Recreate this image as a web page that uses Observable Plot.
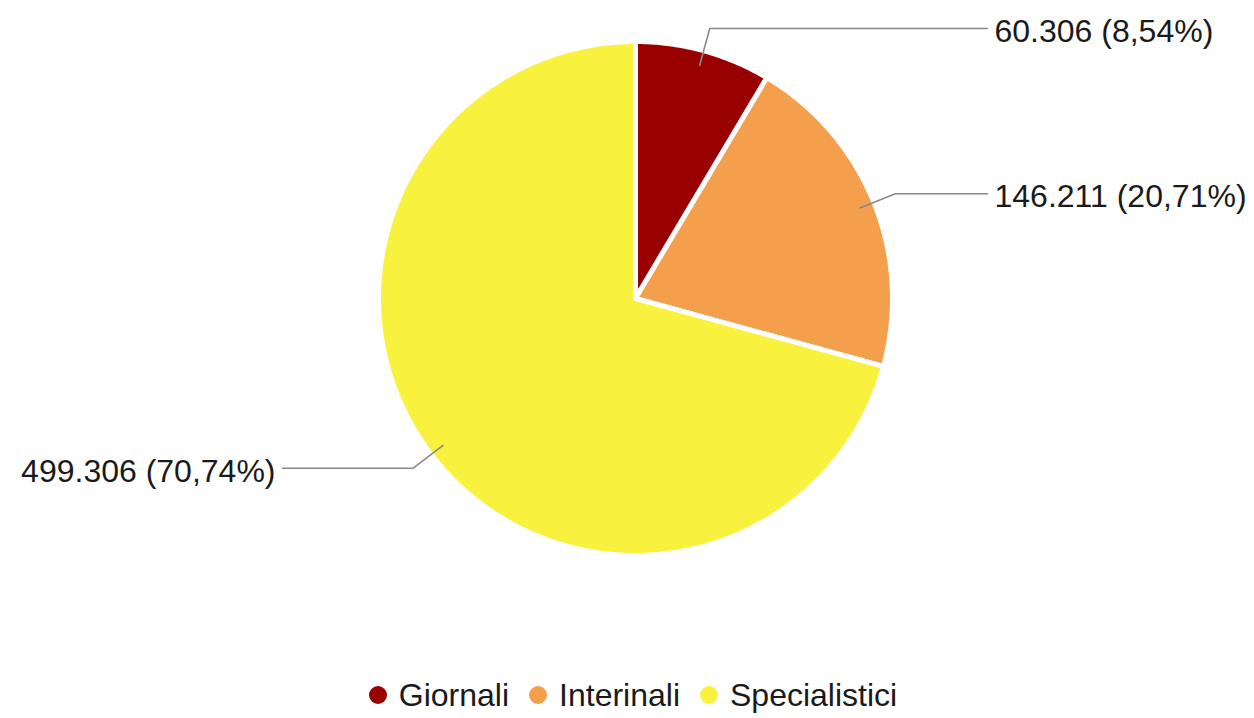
<!DOCTYPE html>
<html><head><meta charset="utf-8">
<script src="https://cdn.jsdelivr.net/npm/d3@7"></script>
<script src="https://cdn.jsdelivr.net/npm/@observablehq/plot@0.6"></script>
<style>
body{margin:0;background:#fff;font-family:"Liberation Sans",Arial,sans-serif;}
#legend{display:flex;justify-content:center;align-items:center;height:46px;font-size:32px;color:#1a1a1a;padding-left:12px;}
#legend .item{display:flex;align-items:center;margin:0 10px;}
#legend .sw{width:18px;height:18px;border-radius:50%;margin-right:12px;}
</style></head>
<body><div id="chart"></div><div id="legend"></div>
<script>
const categories = ["Giornali", "Interinali", "Specialistici"];
const values = [60306, 146211, 499306];
const colors = ["#990000", "#f39f4b", "#f8f23f"];

const W = 1254, H = 672;
const cx = 635, cy = 298, R = 257;
const total = d3.sum(values);
const itLocale = d3.formatLocale({decimal: ",", thousands: ".", grouping: [3], currency: ["€", ""]});
const fmtInt = itLocale.format(",d");
const fmtPct = itLocale.format(".2f");

const arcs = d3.pie().sort(null).value(d => d)(values);

// slice polygons
const slicePts = [];
arcs.forEach((a, i) => {
  slicePts.push({cat: categories[i], x: cx, y: cy});
  const n = Math.max(8, Math.ceil((a.endAngle - a.startAngle) * 120));
  for (let k = 0; k <= n; k++) {
    const t = a.startAngle + (a.endAngle - a.startAngle) * k / n;
    slicePts.push({cat: categories[i], x: cx + R * Math.sin(t), y: cy - R * Math.cos(t)});
  }
});

// leader lines and labels
const leaderPts = [];
const labels = [];
arcs.forEach((a, i) => {
  const m = (a.startAngle + a.endAngle) / 2;
  const s = Math.sin(m), c = Math.cos(m);
  const right = s >= 0;
  const ex = cx + 280 * s, ey = cy - 280 * c;
  const endX = right ? cx + 352 : cx - 353;
  leaderPts.push({cat: categories[i], x: cx + 242 * s, y: cy - 242 * c});
  leaderPts.push({cat: categories[i], x: ex, y: ey});
  leaderPts.push({cat: categories[i], x: endX, y: ey});
  labels.push({
    right,
    x: right ? endX + 7 : endX - 7,
    y: ey + 3,
    text: `${fmtInt(values[i])} (${fmtPct(values[i] / total * 100)}%)`
  });
});

const chart = Plot.plot({
  width: W, height: H,
  margin: 0,
  x: {domain: [0, W], range: [0, W], axis: null},
  y: {domain: [0, H], range: [0, H], axis: null},
  color: {domain: categories, range: colors},
  style: {fontFamily: '"Liberation Sans", Arial, sans-serif', background: "white", overflow: "visible"},
  marks: [
    Plot.line(slicePts, {x: "x", y: "y", z: "cat", fill: "cat", stroke: "white", strokeWidth: 5, strokeLinejoin: "round", curve: "linear-closed"}),
    Plot.line(leaderPts, {x: "x", y: "y", z: "cat", stroke: "#8a8a8a", strokeWidth: 1.6}),
    Plot.text(labels.filter(d => d.right), {x: "x", y: "y", text: "text", textAnchor: "start", lineAnchor: "middle", fontSize: 32, fill: "#1a1a1a"}),
    Plot.text(labels.filter(d => !d.right), {x: "x", y: "y", text: "text", textAnchor: "end", lineAnchor: "middle", fontSize: 32, fill: "#1a1a1a"})
  ]
});
document.getElementById("chart").appendChild(chart);

const legend = document.getElementById("legend");
categories.forEach((c, i) => {
  const item = document.createElement("div");
  item.className = "item";
  const sw = document.createElement("span");
  sw.className = "sw";
  sw.style.background = colors[i];
  const tx = document.createElement("span");
  tx.textContent = c;
  item.appendChild(sw); item.appendChild(tx);
  legend.appendChild(item);
});
</script>
</body></html>
